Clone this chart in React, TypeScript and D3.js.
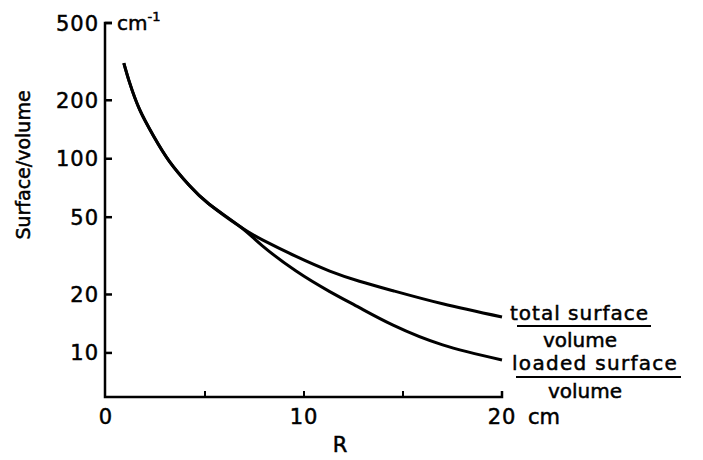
import React, { useEffect } from 'react';
import * as d3 from 'd3';

// shared branch (both curves coincide for small R)
const sharedR = [0.9, 1.2, 1.7, 2.4, 3.2, 4.2, 5.2, 6.8];
const sharedValues = [311, 245, 179, 131, 97, 73, 58.5, 44.5];
// after the split
const tailR = [7.9, 9.6, 11.3, 12.8, 14.5, 17.0, 20];
const totalValues = [38.2, 31.4, 26.4, 23.4, 20.9, 17.9, 15.3];
const loadedValues = [35.6, 26.4, 20.7, 17.1, 13.9, 11.0, 9.2];

const yTicks = [10, 20, 50, 100, 200, 500];
const xTicks = [5, 10, 15, 20];
const xLabels = [
  { v: 0, t: '0' },
  { v: 10, t: '10' },
  { v: 20, t: '20' },
];

const W = 703;
const H = 460;
const font = '"DejaVu Sans", sans-serif';
const ink = { fill: '#000', stroke: '#000', strokeWidth: 0.5 };

export default function App() {
  useEffect(() => {
    document.body.style.margin = '0';
  }, []);

  const x = d3.scaleLinear().domain([0, 20]).range([106, 502]);
  const y = d3.scaleLog().domain([5.93, 500]).range([397, 23]);

  const line = d3
    .line<[number, number]>()
    .x((d) => x(d[0]))
    .y((d) => y(d[1]))
    .curve(d3.curveNatural);

  const shared = sharedR.map((r, i) => [r, sharedValues[i]] as [number, number]);
  const total = shared.concat(tailR.map((r, i) => [r, totalValues[i]] as [number, number]));
  const loaded = shared.concat(tailR.map((r, i) => [r, loadedValues[i]] as [number, number]));

  const axisX = x(0) - 1;
  const base = y.range()[0];

  return (
    <svg width={W} height={H} style={{ display: 'block', background: '#fff' }} fontFamily={font}>
      {/* axes */}
      <path
        d={`M${axisX + 7},${y(500)} L${axisX},${y(500)} L${axisX},${base} L${x(20)},${base} L${x(20)},${base - 6}`}
        fill="none"
        stroke="#000"
        strokeWidth={2.5}
      />
      {yTicks.map((t) => (
        <g key={t}>
          <line x1={axisX} x2={axisX + 7} y1={y(t)} y2={y(t)} stroke="#000" strokeWidth={2.5} />
          <text
            x={axisX - 6}
            y={y(t)}
            dy="0.36em"
            textAnchor="end"
            fontSize={21}
            letterSpacing={1}
            {...ink}
          >
            {t}
          </text>
        </g>
      ))}
      {xTicks.map((t) => (
        <line
          key={t}
          x1={x(t)}
          x2={x(t)}
          y1={base}
          y2={base - 6}
          stroke="#000"
          strokeWidth={2}
        />
      ))}
      {xLabels.map((d) => (
        <text key={d.v} x={x(d.v)} y={424} textAnchor="middle" fontSize={21} letterSpacing={1} {...ink}>
          {d.t}
        </text>
      ))}
      <text x={x(20) + 26} y={424} fontSize={21} {...ink}>
        cm
      </text>
      <text x={340} y={452} textAnchor="middle" fontSize={21} {...ink}>
        R
      </text>

      {/* y label and unit */}
      <text
        transform={`translate(30,165) rotate(-90)`}
        textAnchor="middle"
        fontSize={19}
        {...ink}
      >
        Surface/volume
      </text>
      <text x={117} y={30} fontSize={20} {...ink}>
        cm
        <tspan fontSize={13} dy={-9}>
          -1
        </tspan>
      </text>

      {/* curves */}
      <path d={line(total) ?? ''} fill="none" stroke="#000" strokeWidth={3} />
      <path d={line(loaded) ?? ''} fill="none" stroke="#000" strokeWidth={3} />

      {/* curve labels */}
      <text x={510} y={320} fontSize={20} letterSpacing={1} {...ink}>
        total surface
      </text>
      <line x1={517} x2={651} y1={326} y2={326} stroke="#000" strokeWidth={2} />
      <text x={580} y={347} textAnchor="middle" fontSize={20} {...ink}>
        volume
      </text>
      <text x={512} y={370} fontSize={20} letterSpacing={1.3} {...ink}>
        loaded surface
      </text>
      <line x1={516} x2={681} y1={377} y2={377} stroke="#000" strokeWidth={2} />
      <text x={585} y={398} textAnchor="middle" fontSize={20} {...ink}>
        volume
      </text>
    </svg>
  );
}
